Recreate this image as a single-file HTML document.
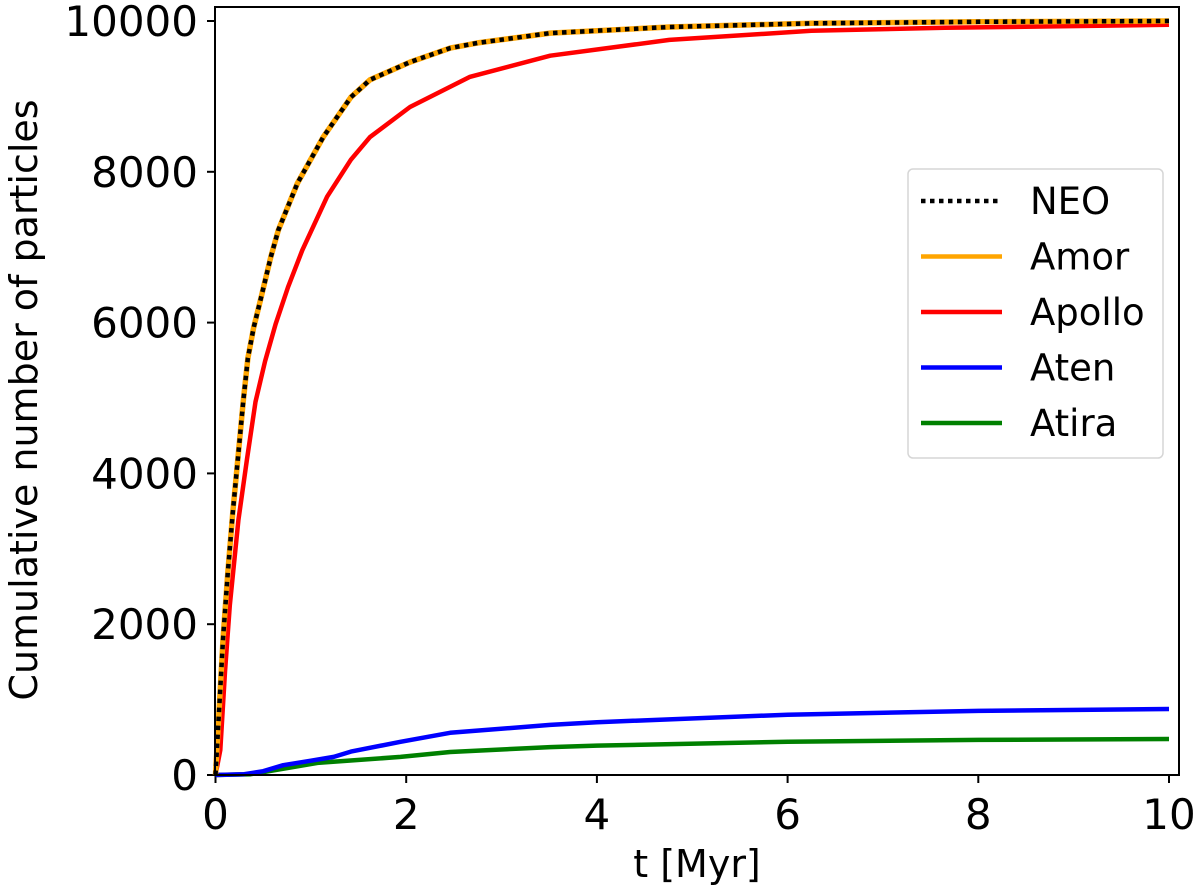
<!DOCTYPE html>
<html><head><meta charset="utf-8"><style>
html,body{margin:0;padding:0;background:#fff;}
svg{display:block;font-family:"DejaVu Sans","Liberation Sans",sans-serif;}
</style></head><body>
<svg id="chart" width="1200" height="895" viewBox="0 0 1200 895">
<g id="plot"></g>
</svg>
<script>
const xTicks=[0,2,4,6,8,10];
const yTicks=[0,2000,4000,6000,8000,10000];
const tNeo=[0,0.03,0.08,0.13,0.18,0.24,0.29,0.34,0.40,0.47,0.58,0.66,0.86,1.13,1.42,1.62,2.04,2.46,2.75,3.51,4.76,6.25,8,10];
const neo=[0,690,1820,2700,3470,4270,4950,5530,5930,6290,6870,7230,7850,8460,8990,9220,9455,9640,9710,9840,9920,9970,9990,10000];
const tApollo=[0,0.05,0.10,0.15,0.24,0.33,0.42,0.52,0.63,0.76,0.91,1.17,1.42,1.62,2.04,2.67,3.51,4.76,6.25,7.65,10];
const apollo=[0,330,1370,2250,3380,4190,4950,5490,5980,6470,6960,7670,8160,8460,8860,9260,9540,9750,9870,9910,9950];
const tAten=[0,0.3,0.5,0.71,1.0,1.24,1.42,1.94,2.46,3.51,4,6,8,10];
const aten=[0,10,50,130,190,240,310,440,560,665,700,800,850,875];
const tAtira=[0,0.37,1.07,1.94,2.46,3.51,4,6,8,10];
const atira=[0,10,160,240,305,370,390,440,465,477];
const legendNames=["NEO","Amor","Apollo","Aten","Atira"];

const NS="http://www.w3.org/2000/svg";
const X0=215.5,XS=95.35,Y0=775,YS=0.0754;
const xs=v=>X0+v*XS, ys=v=>Y0-v*YS;
const g=document.getElementById('plot');
function mk(tag,attrs,parent){const e=document.createElementNS(NS,tag);for(const k in attrs)e.setAttribute(k,attrs[k]);(parent||g).appendChild(e);return e;}
function pts(t,v){return t.map((d,i)=>xs(d).toFixed(1)+','+ys(v[i]).toFixed(1)).join(' ');}

xTicks.forEach(v=>{
  const l=mk('line',{x1:xs(v),x2:xs(v),y1:775,y2:783,stroke:'#000','stroke-width':2});
  
  
  const t=mk('text',{x:xs(v),y:829,'text-anchor':'middle','font-size':42,fill:'#000'});
  t.textContent=v;
  
  
});
yTicks.forEach(v=>{
  const l=mk('line',{x1:207,x2:215,y1:ys(v),y2:ys(v),stroke:'#000','stroke-width':2});
  
  
  const t=mk('text',{x:198,y:ys(v)+15,'text-anchor':'end','font-size':42,fill:'#000'});
  t.textContent=v;
  
  
});

function series(t,v,color,name,w){
  const p=mk('polyline',{points:pts(t,v),fill:'none',stroke:color,'stroke-width':w||4.5,'stroke-linejoin':'round'});
  
  
  return p;
}
series(tAtira,atira,'#008000','atira-line');
series(tAten,aten,'#0000ff','aten-line');
series(tApollo,apollo,'#ff0000','apollo-line');
series(tNeo,neo,'#ffa500','amor-line',5.5);
const neoL=series(tNeo,neo,'#000','neo-line',4.5);
neoL.setAttribute('stroke-dasharray','4.5,4.5');

const fr=mk('rect',{x:215,y:7,width:964,height:768,fill:'none',stroke:'#000','stroke-width':2});



const xt=mk('text',{x:697,y:877,'text-anchor':'middle','font-size':38,fill:'#000'});
xt.textContent='t [Myr]';


const yt=mk('text',{x:0,y:0,'text-anchor':'middle','font-size':38,fill:'#000',transform:'translate(37,400) rotate(-90)'});
yt.textContent='Cumulative number of particles';



const lg=mk('g',{});


const box=mk('rect',{x:908,y:169,width:255,height:289,rx:5,fill:'#fff','fill-opacity':0.8,stroke:'#d6d6d6','stroke-width':1.5},lg);


const lcolors=['#000','#ffa500','#ff0000','#0000ff','#008000'];
legendNames.forEach((n,i)=>{
  const cy=201+i*55.5;
  const l=mk('line',{x1:921,x2:1002,y1:cy,y2:cy,stroke:lcolors[i],'stroke-width':4.5},lg);
  if(i===0)l.setAttribute('stroke-dasharray','4.5,4.5');
  
  
  const t=mk('text',{x:1030,y:cy+13,'font-size':37,fill:'#000'},lg);
  t.textContent=n;
  
  
});
</script>
</body></html>
